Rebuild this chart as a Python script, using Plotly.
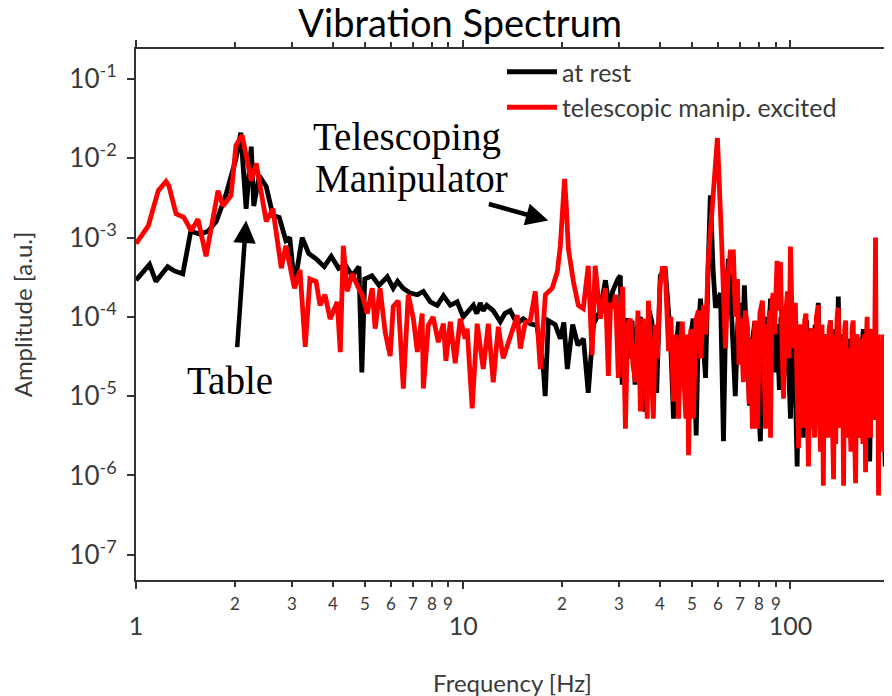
import math
import plotly.graph_objects as go

# ---------------- data ----------------
# "at rest" spectrum, 1 .. 30 Hz
f_rest_low = [
    1.00, 1.10, 1.15, 1.25, 1.31, 1.39, 1.47, 1.57, 1.66, 1.76,
    1.88, 2.02, 2.09, 2.17, 2.25, 2.29, 2.38, 2.50, 2.62, 2.74,
    2.87, 2.95, 3.05, 3.22, 3.37, 3.55, 3.76, 3.95, 4.16, 4.36,
    4.58, 4.80, 4.90, 5.00, 5.26, 5.53, 5.86, 6.11, 6.30, 6.55,
    6.88, 7.24, 7.55, 7.93, 8.33, 8.70, 9.13, 9.58, 10.0, 10.5,
    10.74, 11.0, 11.27, 11.5, 11.8, 12.35, 12.98, 13.4, 13.92, 14.6,
    15.25, 16.03, 16.8, 17.6, 17.8, 18.2, 19.1, 19.8, 20.3, 20.8,
    21.6, 22.4, 23.3, 24.1, 25.0, 26.2, 27.2, 28.0, 28.6, 29.7,
]
a_rest_low = [
    2.9e-4, 4.6e-4, 2.8e-4, 4.3e-4, 3.8e-4, 3.5e-4, 1.2e-3, 1.1e-3, 1.2e-3, 1.6e-3,
    3.4e-3, 9.8e-3, 2.1e-2, 2.3e-3, 1.4e-2, 2.5e-3, 6.0e-3, 4.4e-3, 1.9e-3, 1.8e-3,
    9.2e-4, 1.0e-3, 2.5e-4, 1.0e-3, 6.3e-4, 5.4e-4, 4.3e-4, 5.8e-4, 4.1e-4, 4.5e-4,
    3.3e-4, 4.3e-4, 2.0e-5, 3.0e-4, 3.3e-4, 2.5e-4, 3.2e-4, 2.3e-4, 2.8e-4, 2.3e-4,
    2.0e-4, 1.9e-4, 2.1e-4, 1.55e-4, 1.4e-4, 1.85e-4, 1.4e-4, 1.55e-4, 1.0e-4, 1.3e-4,
    1.4e-4, 1.1e-4, 1.5e-4, 1.2e-4, 1.4e-4, 1.2e-4, 8.7e-5, 1.1e-4, 1.2e-4, 8.2e-5,
    9.5e-5, 8.2e-5, 7.8e-5, 2.0e-5, 1.0e-5, 9.0e-5, 8.0e-5, 5.3e-5, 8.5e-5, 2.2e-5,
    8.0e-5, 4.4e-5, 5.3e-5, 1.1e-5, 8.0e-5, 1.2e-4, 2.9e-4, 1.2e-4, 2.1e-4, 3.0e-4,
]
# "at rest" spectrum, 30 .. 200 Hz
f_rest_high = [
    30.2, 30.6, 31.2, 31.8, 32.3, 32.8, 33.5, 34.2, 34.8, 35.9,
    37.0, 37.7, 38.4, 39.0, 40.0, 41.4, 42.2, 43.0, 43.9, 44.7,
    45.5, 46.5, 47.9, 48.8, 49.6, 50.4, 51.5, 52.3, 53.1, 54.0,
    55.0, 56.0, 56.9, 58.0, 59.0, 61.1, 62.4, 63.5, 64.6, 66.0,
    67.8, 69.0, 70.0, 71.2, 72.3, 73.6, 75.0, 76.5, 77.8, 79.3,
    80.9, 82.2, 83.5, 85.2, 86.9, 88.0, 89.0, 90.3, 91.5, 92.5,
    93.5, 94.4, 95.3, 96.4, 97.5, 98.8, 100.0, 101.2, 102.5, 103.6,
    104.8, 106.0, 107.0, 108.3, 109.5, 110.8, 112.0, 113.2, 114.3, 115.6,
    117.0, 118.0, 119.0, 120.3, 121.6, 122.8, 124.0, 125.0, 126.0, 127.2,
    128.5, 130.5, 132.5, 133.8, 135.0, 136.2, 137.5, 138.8, 140.0, 141.2,
    142.5, 144.0, 145.5, 147.5, 149.6, 151.0, 152.0, 154.2, 156.5, 158.2,
    160.0, 161.5, 163.0, 165.0, 167.0, 168.8, 170.5, 172.5, 174.6, 176.3,
    178.0, 180.0, 182.0, 184.0, 186.0, 188.0, 190.0, 192.3, 194.7, 196.5,
    198.0, 200.0, 202.0,
]
a_rest_high = [
    3.3e-4, 1.4e-5, 8.0e-5, 9.5e-5, 3.0e-5, 9.0e-5, 1.4e-5, 7.0e-5, 1.0e-4, 6.4e-6,
    1.2e-4, 8.7e-5, 2.5e-5, 1.1e-5, 3.3e-4, 4.1e-4, 1.5e-4, 5.3e-5, 5.2e-6, 4.0e-5,
    8.7e-5, 2.0e-5, 4.0e-5, 1.2e-5, 6.0e-5, 9.5e-5, 3.2e-6, 7.0e-5, 1.7e-4, 4.0e-5,
    1.7e-5, 4.0e-4, 3.4e-3, 4.0e-4, 1.3e-4, 2.0e-4, 2.7e-6, 1.5e-4, 5.4e-4, 1.2e-4,
    1.0e-5, 8.0e-5, 1.5e-4, 3.0e-5, 2.5e-4, 4.0e-5, 7.6e-6, 5.0e-5, 8.7e-5, 1.5e-5,
    2.7e-6, 6.0e-5, 1.0e-4, 3.0e-5, 1.7e-4, 6.0e-5, 2.0e-5, 8.0e-5, 4.0e-5, 1.2e-5,
    1.0e-4, 3.0e-5, 1.67e-5, 1.0e-4, 7.0e-5, 2.0e-5, 5.2e-6, 6.0e-5, 5.0e-5, 1.0e-5,
    1.3e-6, 3.0e-5, 4.0e-5, 6.0e-6, 3.0e-6, 5.0e-5, 9.0e-5, 2.0e-5, 7.1e-5, 1.0e-5,
    4.0e-6, 5.0e-5, 8.0e-5, 2.0e-5, 1.5e-4, 1.5e-5, 6.0e-6, 4.0e-5, 2.3e-6, 3.0e-5,
    6.0e-5, 1.0e-5, 9.0e-5, 1.2e-5, 3.0e-6, 4.0e-5, 7.0e-5, 1.5e-5, 1.8e-4, 2.0e-5,
    5.0e-6, 3.0e-5, 6.0e-5, 1.0e-5, 5.3e-5, 1.0e-5, 3.0e-6, 4.0e-5, 3.0e-5, 6.0e-6,
    5.0e-5, 1.0e-5, 3.0e-6, 4.0e-5, 7.0e-5, 1.0e-5, 4.0e-6, 3.0e-5, 1.5e-6, 2.0e-5,
    5.0e-5, 1.0e-5, 6.0e-6, 3.0e-5, 4.0e-5, 8.0e-6, 3.0e-6, 2.0e-5, 1.3e-6, 4.0e-5,
    3.0e-5, 5.0e-6, 6.5e-5,
]

# "telescopic manip. excited" spectrum, 1 .. 27 Hz
f_exc_low = [
    1.00, 1.09, 1.17, 1.235, 1.26, 1.325, 1.40, 1.475, 1.547, 1.637,
    1.781, 1.845, 1.952, 2.02, 2.11, 2.25, 2.33, 2.50, 2.62, 2.78,
    2.87, 2.96, 3.05, 3.17, 3.29, 3.40, 3.55, 3.65, 3.78, 3.92,
    4.12, 4.21, 4.30, 4.42, 4.58, 4.74, 4.91, 5.09, 5.27, 5.38,
    5.57, 5.77, 5.98, 6.11, 6.33, 6.56, 6.79, 7.04, 7.24, 7.49,
    7.55, 7.82, 8.09, 8.39, 8.70, 8.85, 9.13, 9.45, 9.79, 10.14,
    10.28, 10.65, 11.03, 11.51, 11.93, 12.35, 12.8, 13.25, 13.92, 14.63,
    14.94, 15.47, 16.03, 16.6, 17.2, 17.82, 18.7, 19.39, 19.8, 20.09,
    20.4, 20.65, 20.95, 21.7, 22.47, 23.27, 24.1, 24.75, 25.3, 26.24,
]
a_exc_low = [
    8.4e-4, 1.4e-3, 3.9e-3, 5.1e-3, 4.5e-3, 2.0e-3, 1.8e-3, 1.22e-3, 1.7e-3, 5.8e-4,
    3.9e-3, 2.5e-3, 3.4e-3, 1.45e-2, 1.95e-2, 5.2e-3, 8.6e-3, 1.6e-3, 2.3e-3, 4.1e-4,
    7.9e-4, 4.3e-4, 2.3e-4, 3.9e-4, 4.2e-5, 3.0e-4, 2.8e-4, 1.4e-4, 1.9e-4, 9.4e-5,
    1.55e-4, 3.6e-5, 7.9e-4, 2.1e-4, 3.5e-4, 2.5e-4, 1.9e-4, 1.1e-4, 2.3e-4, 7.1e-5,
    2.3e-4, 6.5e-5, 3.2e-5, 1.35e-4, 1.6e-4, 1.25e-5, 1.9e-4, 9.5e-5, 3.6e-5, 1.1e-4,
    1.25e-5, 7.8e-5, 1.0e-4, 4.8e-5, 8.2e-5, 2.8e-5, 8.7e-5, 2.6e-5, 9.5e-5, 5.3e-5,
    7.1e-5, 7.0e-6, 8.2e-5, 2.2e-5, 8.2e-5, 1.5e-5, 7.5e-5, 3.0e-5, 5.8e-5, 1.05e-4,
    4.0e-5, 8.5e-5, 9.0e-5, 2.1e-4, 2.2e-5, 1.9e-4, 2.3e-4, 3.7e-4, 7.9e-4, 2.5e-3,
    5.5e-3, 2.5e-3, 7.3e-4, 2.8e-4, 1.4e-4, 1.27e-4, 4.4e-4, 3.3e-5, 4.4e-4, 9.5e-5,
]
# "telescopic manip. excited" spectrum, 27 .. 200 Hz
f_exc_high = [
    27.2, 27.76, 28.2, 28.7, 29.2, 29.78, 30.2, 30.7, 31.3, 31.8,
    32.4, 33.0, 33.6, 34.2, 34.8, 35.5, 36.0, 36.5, 36.8, 37.4,
    38.1, 38.6, 39.2, 39.9, 40.6, 41.4, 41.9, 42.4, 43.1, 43.9,
    44.7, 45.5, 46.1, 46.7, 47.3, 47.9, 48.4, 48.8, 49.6, 50.5,
    51.4, 52.3, 53.2, 54.2, 55.1, 56.1, 57.7, 59.8, 61.5, 62.4,
    63.3, 64.4, 65.5, 66.9, 67.9, 68.9, 69.6, 70.3, 71.8, 72.8,
    73.9, 74.7, 75.5, 76.5, 77.8, 79.2, 80.6, 82.1, 83.0, 83.9,
    84.7, 85.5, 86.2, 86.9, 87.7, 88.5, 89.3, 90.2, 91.0, 92.1,
    93.2, 94.2, 95.2, 96.5, 97.9, 99.0, 100.0, 101.0, 102.1, 103.5,
    104.6, 105.8, 106.6, 107.5, 108.5, 109.5, 110.5, 111.5, 112.5, 113.5,
    115.0, 116.8, 117.6, 118.5, 120.0, 121.6, 122.5, 123.5, 124.8, 126.0,
    127.0, 128.0, 129.0, 130.0, 131.2, 132.5, 134.0, 135.4, 136.5, 137.5,
    138.8, 140.0, 141.2, 142.5, 144.0, 145.3, 146.4, 147.5, 149.0, 150.5,
    151.8, 153.0, 154.2, 155.5, 156.8, 158.1, 159.5, 160.8, 162.2, 163.7,
    165.0, 166.5, 168.0, 169.6, 170.5, 171.5, 172.3, 173.2, 174.3, 175.5,
    177.0, 178.5, 180.2, 181.9, 182.7, 183.5, 184.6, 185.8, 187.0, 188.0,
    189.0, 190.0, 191.2, 192.5, 193.8, 195.0, 196.2, 197.5, 198.5, 199.4,
    201.0,
]
a_exc_high = [
    2.3e-4, 1.8e-5, 1.5e-4, 1.27e-4, 1.9e-4, 1.7e-5, 1.27e-4, 2.4e-4, 3.9e-6, 8.0e-5,
    9.5e-5, 2.5e-5, 1.5e-5, 1.2e-4, 6.4e-6, 9.5e-5, 2.0e-5, 5.2e-6, 1.6e-4, 3.0e-5,
    5.2e-6, 8.0e-5, 3.0e-5, 2.5e-4, 4.1e-4, 4.1e-4, 1.2e-4, 3.7e-5, 1.0e-4, 8.5e-6,
    6.0e-5, 5.2e-6, 4.0e-5, 8.7e-5, 1.5e-5, 5.2e-6, 6.0e-5, 1.8e-6, 7.0e-5, 5.2e-6,
    9.0e-5, 1.2e-4, 3.0e-5, 1.4e-4, 6.0e-5, 5.4e-4, 2.5e-3, 1.8e-2, 1.06e-3, 2.0e-4,
    4.0e-5, 3.0e-4, 6.6e-4, 6.6e-4, 1.0e-4, 3.0e-4, 2.5e-5, 9.5e-5, 1.5e-5, 1.2e-4,
    7.5e-5, 8.0e-6, 5.3e-5, 3.9e-6, 9.0e-5, 3.9e-6, 1.1e-4, 1.6e-4, 1.0e-5, 3.9e-6,
    8.0e-5, 2.5e-5, 1.2e-4, 3.0e-6, 1.5e-4, 2.0e-4, 6.0e-5, 3.5e-4, 5.1e-4, 1.2e-4,
    4.9e-4, 5.0e-5, 9.3e-6, 1.0e-4, 2.1e-4, 3.0e-5, 7.7e-4, 1.2e-4, 4.0e-5, 1.5e-4,
    1.0e-5, 2.2e-6, 6.0e-5, 8.0e-5, 5.0e-6, 4.0e-6, 9.0e-5, 1.1e-4, 8.0e-6, 1.3e-6,
    6.0e-5, 7.1e-5, 5.0e-6, 3.0e-6, 1.0e-4, 1.4e-4, 6.0e-6, 2.0e-6, 8.0e-5, 7.4e-7,
    4.0e-5, 6.0e-5, 5.0e-6, 3.0e-6, 7.0e-5, 9.0e-5, 8.0e-6, 9.0e-7, 6.0e-5, 2.5e-6,
    1.0e-4, 1.3e-4, 7.0e-6, 4.0e-6, 5.0e-5, 7.4e-7, 7.0e-5, 9.0e-5, 3.0e-6, 4.0e-5,
    6.0e-6, 2.0e-6, 7.0e-5, 9.0e-5, 4.0e-6, 8.0e-7, 6.0e-5, 5.0e-5, 3.0e-6, 5.3e-5,
    8.0e-6, 2.5e-6, 6.0e-5, 1.1e-6, 5.0e-5, 1.0e-4, 6.0e-6, 7.1e-5, 4.0e-6, 3.0e-6,
    7.0e-5, 6.0e-5, 5.0e-6, 1.0e-3, 2.0e-5, 8.0e-6, 6.0e-5, 5.6e-7, 5.0e-5, 3.0e-5,
    3.0e-6, 2.0e-6, 6.0e-5, 9.3e-6, 5.0e-5, 4.0e-5, 3.0e-6, 1.5e-6, 4.0e-5, 7.4e-7,
    3.0e-5,
]

assert len(f_rest_low) == len(a_rest_low) and len(f_rest_high) == len(a_rest_high)
assert len(f_exc_low) == len(a_exc_low) and len(f_exc_high) == len(a_exc_high)

f_rest = f_rest_low + f_rest_high
a_rest = a_rest_low + a_rest_high
f_exc = f_exc_low + f_exc_high
a_exc = a_exc_low + a_exc_high

series_names = ["at rest", "telescopic manip. excited"]
series_colors = ["#000000", "#ff0000"]

y_tick_vals = [1e-7, 1e-6, 1e-5, 1e-4, 1e-3, 1e-2, 1e-1]
y_tick_text = ["10<sup>-7</sup>", "10<sup>-6</sup>", "10<sup>-5</sup>", "10<sup>-4</sup>",
               "10<sup>-3</sup>", "10<sup>-2</sup>", "10<sup>-1</sup>"]
x_major_vals = [1, 10, 100]
x_major_text = ["1", "10", "100"]
x_minor_vals = [2, 3, 4, 5, 6, 7, 8, 9, 20, 30, 40, 50, 60, 70, 80, 90, 200]
x_minor_text = ["2", "3", "4", "5", "6", "7", "8", "9",
                "2", "3", "4", "5", "6", "7", "8", "9", "2"]

x_range = [1, 200]
y_range = [10 ** -7.318, 10 ** -0.622]

# arrow tips (Hz, amplitude)
table_tip = (2.17, 1.64e-3)
tele_tip = (18.2, 1.64e-3)

SANS = "Lato"
SERIF = "Liberation Serif"
GRAY = "#3a3a3a"
AX = "#333333"

fig = go.Figure()
fig.add_trace(go.Scatter(x=f_rest, y=a_rest, mode="lines", name=series_names[0],
                         legendgroup="g1", line=dict(color=series_colors[0], width=4.8)))
fig.add_trace(go.Scatter(x=f_exc, y=a_exc, mode="lines", name=series_names[1],
                         legendgroup="g2", line=dict(color=series_colors[1], width=4.8)))

axis_common = dict(showline=True, linecolor=AX, linewidth=2, mirror="ticks", automargin=False,
                   showgrid=False, zeroline=False, tickcolor=AX, tickwidth=2)

fig.update_xaxes(
    type="log", range=[math.log10(x_range[0]), math.log10(x_range[1])],
    tickmode="array", tickvals=x_major_vals, ticktext=x_major_text,
    ticks="outside", ticklen=7, ticklabelstandoff=16,
    tickfont=dict(family=SANS, size=25, color=GRAY),
    minor=dict(tickmode="array", tickvals=x_minor_vals, ticks="outside", ticklen=5,
               tickcolor=AX, tickwidth=2),
    title=dict(text="Frequency [Hz]", font=dict(family=SANS, size=24, color=GRAY), standoff=36),
    **axis_common,
)
fig.update_yaxes(
    type="log", range=[math.log10(y_range[0]), math.log10(y_range[1])],
    tickmode="array", tickvals=y_tick_vals, ticktext=y_tick_text,
    ticks="outside", ticklen=7, ticklabelstandoff=5,
    tickfont=dict(family=SANS, size=26, color=GRAY),
    title=dict(text="Amplitude [a.u.]", font=dict(family=SANS, size=24, color=GRAY), standoff=32),
    **axis_common,
)

annotations = []
for v, t in zip(x_minor_vals, x_minor_text):
    annotations.append(dict(x=math.log10(v), y=0, xref="x", yref="paper", text=t,
                            showarrow=False, yanchor="top", yshift=-11,
                            font=dict(family=SANS, size=17, color=GRAY)))

serif_font = dict(family=SERIF, size=39, color="black")
annotations += [
    dict(x=0.233, y=0.834, xref="paper", yref="paper", text="Telescoping", showarrow=False,
         xanchor="left", yanchor="middle", font=serif_font),
    dict(x=0.235, y=0.755, xref="paper", yref="paper", text="Manipulator", showarrow=False,
         xanchor="left", yanchor="middle", font=serif_font),
    dict(x=0.125, y=0.375, xref="paper", yref="paper", text="Table", showarrow=False,
         xanchor="center", yanchor="middle", font=serif_font),
    dict(x=math.log10(table_tip[0]), y=math.log10(table_tip[1]), xref="x", yref="y", text="",
         showarrow=True, arrowhead=2, arrowsize=1, arrowwidth=4.5, arrowcolor="black",
         ax=-9, ay=128, axref="pixel", ayref="pixel"),
    dict(x=math.log10(tele_tip[0]), y=math.log10(tele_tip[1]), xref="x", yref="y", text="",
         showarrow=True, arrowhead=2, arrowsize=1, arrowwidth=4.5, arrowcolor="black",
         ax=-61, ay=-17, axref="pixel", ayref="pixel"),
]

# the page body adds an 8 px offset, so the margins are shifted to compensate
fig.update_layout(
    width=892, height=696, autosize=False,
    margin=dict(l=128, r=11, t=41, b=124, autoexpand=False),
    paper_bgcolor="white", plot_bgcolor="white",
    title=dict(text="Vibration Spectrum", x=0.507, xanchor="center", y=0.977, yanchor="middle",
               font=dict(family=SANS, size=38, color="black")),
    legend=dict(x=0.486, y=1.0, xanchor="left", yanchor="top", bgcolor="rgba(0,0,0,0)",
                font=dict(family=SANS, size=25, color=GRAY), tracegroupgap=0,
                itemwidth=50),
    showlegend=True,
    annotations=annotations,
)

fig.write_html("out.html", config={"responsive": False})
